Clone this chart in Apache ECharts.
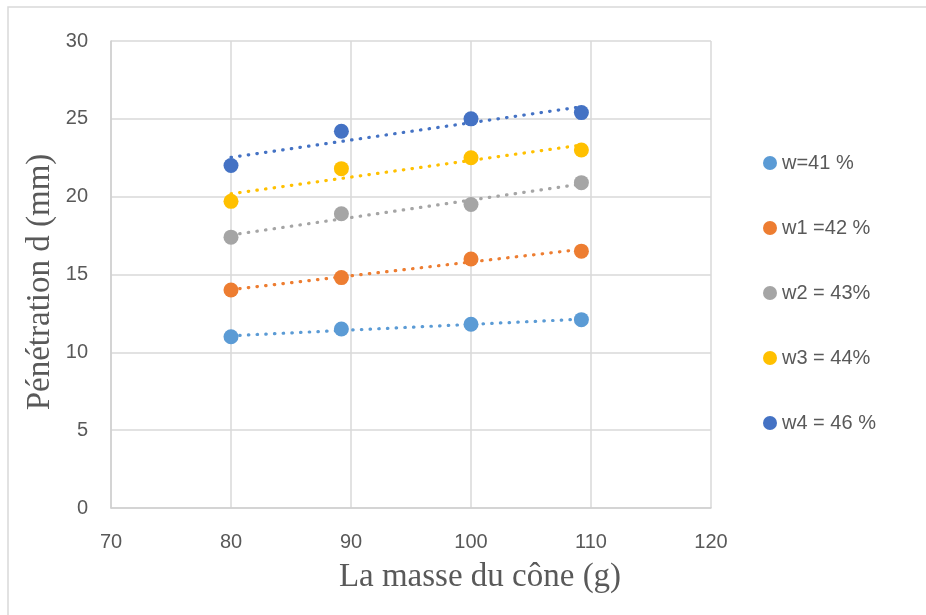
<!DOCTYPE html>
<html>
<head>
<meta charset="utf-8">
<title>Pénétration en fonction de la masse du cône</title>
<script src="https://cdn.jsdelivr.net/npm/echarts@6/dist/echarts.min.js"></script>
<style>
  html, body { margin: 0; padding: 0; background: #ffffff; }
  #chart { width: 926px; height: 615px; }
</style>
</head>
<body>
<div id="chart"></div>
<script>
// Masse du cône (g)
const masses = [80, 89.2, 100, 109.2];

// Pénétration d (mm) pour chaque teneur en eau
const penW41 = [11.0, 11.5, 11.8, 12.1];
const penW42 = [14.0, 14.8, 16.0, 16.5];
const penW43 = [17.4, 18.9, 19.5, 20.9];
const penW44 = [19.7, 21.8, 22.5, 23.0];
const penW46 = [22.0, 24.2, 25.0, 25.4];

const seriesNames = ['w=41 %', 'w1 =42 %', 'w2 = 43%', 'w3 = 44%', 'w4 = 46 %'];
const seriesValues = [penW41, penW42, penW43, penW44, penW46];
const seriesColors = ['#5B9BD5', '#ED7D31', '#A5A5A5', '#FFC000', '#4472C4'];

// Axis ticks
const xTicks = [70, 80, 90, 100, 110, 120];
const yTicks = [0, 5, 10, 15, 20, 25, 30];

const textGrey = '#595959';
const gridGrey = '#d9d9d9';
const sansFont = '"Liberation Sans", Arial, sans-serif';
const serifFont = '"Liberation Serif", "Times New Roman", serif';

// Least-squares linear trend, evaluated over the range of the data
function linearTrend(xs, ys) {
  const n = xs.length;
  const mx = xs.reduce((a, b) => a + b, 0) / n;
  const my = ys.reduce((a, b) => a + b, 0) / n;
  let sxy = 0, sxx = 0;
  for (let i = 0; i < n; i++) {
    sxy += (xs[i] - mx) * (ys[i] - my);
    sxx += (xs[i] - mx) * (xs[i] - mx);
  }
  const slope = sxy / sxx;
  const icpt = my - slope * mx;
  const x0 = Math.min(...xs), x1 = Math.max(...xs);
  return [[x0, icpt + slope * x0], [x1, icpt + slope * x1]];
}

const series = [];
seriesNames.forEach((name, i) => {
  series.push({
    name: 'Linéaire (' + name + ')',
    type: 'line',
    data: linearTrend(masses, seriesValues[i]),
    showSymbol: false,
    symbol: 'none',
    silent: true,
    z: 2,
    lineStyle: { color: seriesColors[i], width: 3.2, type: [0.5, 8.2], cap: 'round' }
  });
});
seriesNames.forEach((name, i) => {
  series.push({
    name: name,
    type: 'scatter',
    data: masses.map((m, j) => [m, seriesValues[i][j]]),
    symbol: 'circle',
    symbolSize: 15,
    z: 3,
    itemStyle: { color: seriesColors[i], opacity: 1 }
  });
});

const chart = echarts.init(document.getElementById('chart'), null, { renderer: 'canvas' });
chart.setOption({
  animation: false,
  backgroundColor: '#ffffff',
  grid: { left: 111, right: 215, top: 41, bottom: 107, containLabel: false },
  xAxis: {
    type: 'value',
    min: xTicks[0],
    max: xTicks[xTicks.length - 1],
    interval: xTicks[1] - xTicks[0],
    axisLine: { show: true, onZero: false, lineStyle: { color: '#cfcfcf', width: 1.5 } },
    axisTick: { show: false },
    axisLabel: { color: textGrey, fontSize: 20, fontFamily: sansFont, margin: 24 },
    splitLine: { show: true, lineStyle: { color: gridGrey, width: 1.5 } }
  },
  yAxis: {
    type: 'value',
    min: yTicks[0],
    max: yTicks[yTicks.length - 1],
    interval: yTicks[1] - yTicks[0],
    axisLine: { show: true, onZero: false, lineStyle: { color: '#cfcfcf', width: 1.5 } },
    axisTick: { show: false },
    axisLabel: { color: textGrey, fontSize: 20, fontFamily: sansFont, margin: 23 },
    splitLine: { show: true, lineStyle: { color: gridGrey, width: 1.5 } }
  },
  legend: {
    data: seriesNames,
    orient: 'vertical',
    left: 758,
    top: 148,
    icon: 'circle',
    itemWidth: 14,
    itemHeight: 14,
    itemGap: 45,
    itemStyle: { opacity: 1 },
    textStyle: { color: textGrey, fontSize: 20, fontFamily: sansFont, lineHeight: 20 }
  },
  graphic: [
    {
      type: 'rect',
      shape: { x: 8, y: 7, width: 940, height: 640 },
      style: { fill: null, stroke: '#d9d9d9', lineWidth: 1.5 },
      silent: true,
      z: -10
    },
    {
      type: 'text',
      x: 480,
      y: 577,
      style: {
        text: 'La masse du cône (g)',
        font: '33px ' + serifFont,
        fill: textGrey,
        textAlign: 'center',
        textVerticalAlign: 'middle'
      }
    },
    {
      type: 'text',
      x: 40,
      y: 282,
      rotation: Math.PI / 2,
      style: {
        text: 'Pénétration d (mm)',
        font: '33px ' + serifFont,
        fill: textGrey,
        textAlign: 'center',
        textVerticalAlign: 'middle'
      }
    }
  ],
  series: series
});
</script>
</body>
</html>
